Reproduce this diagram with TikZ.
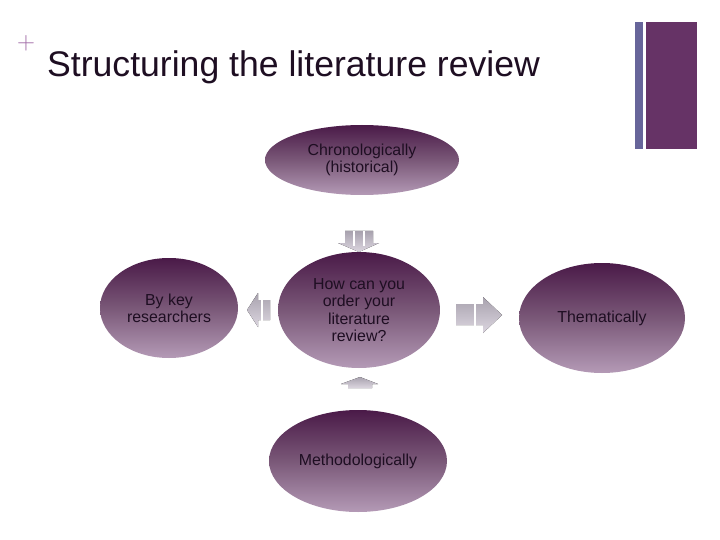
\documentclass[tikz,border=0pt]{standalone}
\usepackage{fontspec}
\setmainfont{Liberation Sans}
\usetikzlibrary{shapes.geometric}
\definecolor{ptop}{HTML}{4A1A48}
\definecolor{pmid}{HTML}{7A5878}
\definecolor{pbot}{HTML}{B49AB6}
\definecolor{txt}{HTML}{1E0E22}
\definecolor{barA}{HTML}{67659A}
\definecolor{barB}{HTML}{663366}
\definecolor{plusc}{HTML}{A06AA6}
\definecolor{arrT}{HTML}{A8A2AE}
\definecolor{arrB}{HTML}{DCD6E0}
\tikzset{
  oval/.style={ellipse, inner sep=0pt, top color=ptop, bottom color=pbot, middle color=pmid,
    text=txt, font=\fontsize{15.9}{17.3}\selectfont, align=center},
  arr/.style={top color=arrT, bottom color=arrB, draw=none},
  gap/.style={draw=white, line width=1.2pt}
}
\begin{document}
\begin{tikzpicture}[x=1pt,y=-1pt]
\useasboundingbox (0,0) rectangle (720,540);
\fill[white] (0,0) rectangle (720,540);
% bars
\fill[barA] (635,22) rectangle (643,149);
\fill[barB] (646,22) rectangle (697,149);
% plus and title
\node[text=plusc, font=\fontsize{27}{27}\selectfont, inner sep=0pt] (plus) at (26,43) {$+$};
\node[text=txt, font=\fontsize{35.6}{36}\selectfont, anchor=base west, inner sep=0pt] (title) at (47,77) {Structuring the literature review};
% ellipses
\node[oval, minimum width=194pt, minimum height=70pt] (chron) at (362,160) {Chronologically\\(historical)};
\node[oval, minimum width=162pt, minimum height=116pt] (center) at (359,310) {How can you\\order your\\literature\\review?};
\node[oval, minimum width=138pt, minimum height=100pt] (key) at (169,308) {By key\\researchers};
\node[oval, minimum width=166pt, minimum height=110pt] (them) at (602,318) {Thematically};
\node[oval, minimum width=178pt, minimum height=102pt] (meth) at (358,461) {Methodologically};
% down arrow (chron -> center)
\fill[arr] (345,231) -- (373,231) -- (373,243) -- (379,243) -- (359,252) -- (338,243) -- (345,243) -- cycle;
\draw[gap] (354,231) -- (354,246);
\draw[gap] (364,231) -- (364,246);
% left arrow (center -> key)
\fill[arr] (270,300) -- (270,320) -- (258,320) -- (258,327) -- (247,310) -- (258,293) -- (258,300) -- cycle;
\draw[gap] (262,298) -- (262,322);
% right arrow (center -> them)
\fill[arr] (456,304) -- (483,304) -- (483,297) -- (502,315) -- (483,333) -- (483,325) -- (456,325) -- cycle;
\draw[gap] (475,302) -- (475,327);
% up arrow (meth -> center)
\fill[arr] (348,388) -- (348,384) -- (341,384) -- (360,377) -- (378,384) -- (372,384) -- (372,388) -- cycle;
\end{tikzpicture}
\end{document}
